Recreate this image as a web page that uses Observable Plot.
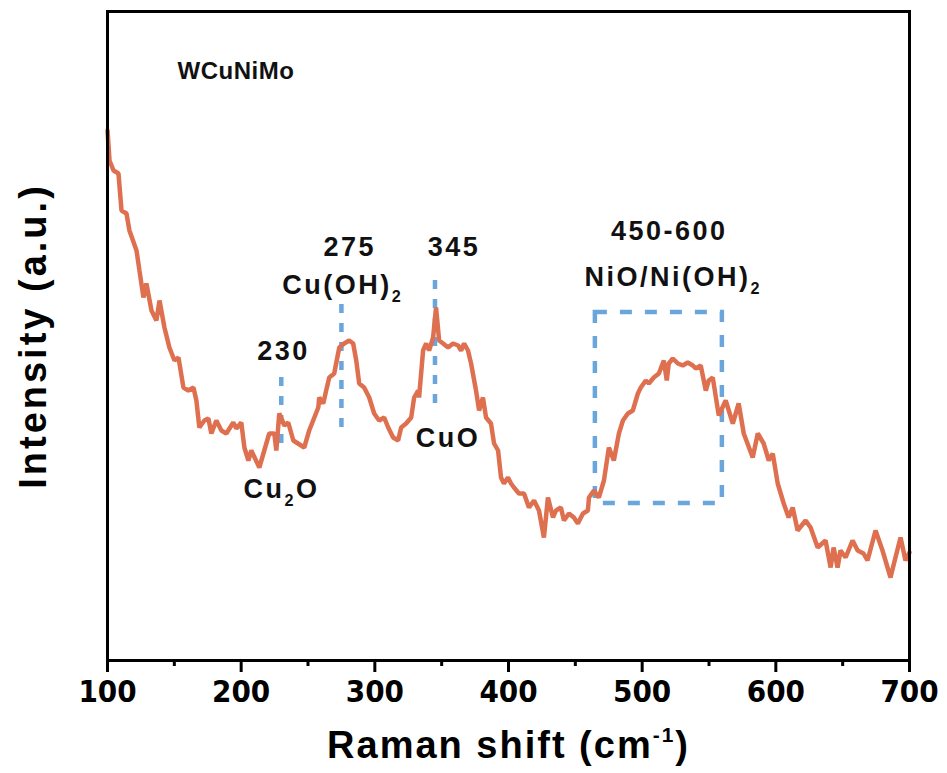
<!DOCTYPE html>
<html>
<head>
<meta charset="utf-8">
<script src="https://cdn.jsdelivr.net/npm/d3@7"></script>
<script src="https://cdn.jsdelivr.net/npm/@observablehq/plot@0.6"></script>
<style>
  body { margin: 0; background: #fff; }
  #chart svg { font-family: "Liberation Sans", Arial, sans-serif; }
  #chart svg text { letter-spacing: 2.5px; }
  #chart g[aria-label="x-axis tick label"] text {
    font-family: "Liberation Sans Narrow", "Arial Narrow", "DejaVu Sans Condensed", sans-serif;
    letter-spacing: 0;
  }
</style>
</head>
<body>
<div id="chart"></div>
<script>
// Raman spectrum of the WCuNiMo sample (shift in cm^-1, intensity in a.u.)
const shift = [
  100, 101.5, 104.5, 108.2, 110.5, 114.2, 116.4, 121.7, 123.9, 126.9,
  129.1, 132.9, 136.6, 138.9, 142.6, 146.3, 150.1, 153.1, 156.8, 160.5,
  164.3, 166.5, 168.7, 172.5, 175.5, 177.7, 181.4, 185.2, 188.9, 194.1,
  196.4, 200.1, 202.4, 205.4, 207.6, 213.6, 217.3, 221.0, 224.8, 226.3,
  228.5, 232.3, 235.2, 239.0, 247.2, 250.9,
  257.7, 258.4, 261.4, 263.6, 265.9, 269.6, 273.4, 277.1, 280.8, 283.8,
  286.1, 288.3, 292.0, 295.8, 299.5, 303.2, 307.0, 310.0, 313.7, 317.4,
  319.7, 323.4, 327.2, 329.4, 332.4, 333.1, 336.1, 338.4, 340.6, 343.6,
  345.8, 348.1, 351.1, 354.8, 358.5, 362.3, 364.5, 366.8, 369.7, 372.0,
  375.7, 378.0, 380.9, 383.2, 386.9, 389.2, 392.2, 394.4, 396.6, 399.6,
  401.9, 404.1, 407.8,
  411.6, 415.3, 419.1, 422.8, 426.5, 429.5, 433.3, 435.5, 439.2, 441.5,
  445.2, 448.9, 451.9, 455.7, 459.4, 460.2, 463.9, 467.6, 471.4, 475.1,
  478.8, 482.6, 485.6, 489.3, 493.0, 496.8, 499.0, 502.7, 505.0, 508.7,
  512.5, 516.2, 518.4, 519.9, 522.9, 526.7, 530.4, 534.1, 537.9, 540.1,
  543.8,
  547.6, 549.8, 552.8, 557.3, 562.5, 567.8, 572.2, 576.0, 582.7, 586.5,
  590.9, 594.7, 597.7, 601.4, 605.9, 609.6, 612.6, 616.3, 622.3, 626.0,
  631.3, 637.2, 641.0, 643.2, 646.2, 648.4, 652.2, 657.4, 661.2, 665.6,
  668.6, 674.6, 679.8, 685.8, 689.5, 693.3, 697.0, 700
];
const intensity = [
  530, 500, 490, 487, 450, 447, 430, 410, 390, 363,
  377, 350, 340, 360, 333, 313, 300, 303, 273, 270,
  273, 260, 233, 240, 242, 227, 240, 230, 227, 238,
  232, 238, 213, 200, 210, 193, 210, 227, 227, 210,
  247, 235, 238, 220, 213, 230,
  253, 263, 257, 270, 283, 287, 313, 317, 320, 317,
  300, 277, 273, 263, 247, 240, 243, 233, 223, 220,
  233, 237, 243, 263, 270, 263, 310, 317, 310, 323,
  353, 320, 317, 313, 317, 315, 310, 317, 310, 297,
  270, 250, 263, 243, 237, 217, 210, 183, 177, 183,
  177, 173, 167,
  167, 153, 160, 150, 123, 163, 143, 150, 153, 140,
  147, 143, 137, 147, 150, 163, 170, 163, 180, 213,
  200, 227, 240, 247, 250, 267, 273, 280, 277, 283,
  287, 300, 280, 297, 302, 297, 295, 298, 295, 292,
  295,
  270, 280, 283, 245, 260, 237, 257, 227, 203, 227,
  217, 200, 207, 177, 157, 143, 153, 130, 140, 133,
  113, 120, 93, 113, 93, 110, 103, 120, 110, 107,
  100, 130, 110, 83, 103, 123, 100, 108
];

// axis ticks
const majorTicks = [100, 200, 300, 400, 500, 600, 700];
const minorTicks = [150, 250, 350, 450, 550, 650];

// assigned peak positions and the extent of their marker lines
const peakShift = [230, 275, 345];
const peakLow = [217, 233, 257];
const peakHigh = [287, 358, 383];

// NiO/Ni(OH)2 band region
const bandStart = [465];
const bandEnd = [560];
const bandLow = [157];
const bandHigh = [348];

// annotation texts and their anchor points
const noteText = ["230", "275", "345", "450-600", "Cu₂O", "Cu(OH)₂", "CuO", "NiO/Ni(OH)₂"];
const noteShift = [231.7, 281.2, 359.2, 520.3, 230.2, 276, 354.7, 523.3];
const noteLevel = [309, 413, 413, 429, 171, 375, 222, 383];

const sampleName = ["WCuNiMo"];
const xTitle = ["Raman shift (cm⁻¹)"];
const yTitle = ["Intensity (a.u.)"];

const spectrum = shift.map((s, i) => ({shift: s, intensity: intensity[i]}));
const peaks = peakShift.map((s, i) => ({shift: s, low: peakLow[i], high: peakHigh[i]}));
const band = bandStart.map((s, i) => ({x1: s, x2: bandEnd[i], y1: bandLow[i], y2: bandHigh[i]}));
const notes = noteText.map((t, i) => ({text: t, shift: noteShift[i], level: noteLevel[i]}));

const lineColor = "#DE7050";
const markColor = "#6AA6DC";

const chart = Plot.plot({
  width: 947,
  height: 773,
  marginLeft: 107,
  marginRight: 38,
  marginTop: 11,
  marginBottom: 113,
  x: {domain: [100, 700]},
  y: {domain: [0, 649], axis: null},
  marks: [
    Plot.ruleX(peaks, {x: "shift", y1: "low", y2: "high", stroke: markColor, strokeWidth: 4.5, strokeDasharray: "9,10"}),
    Plot.rect(band, {x1: "x1", x2: "x2", y1: "y1", y2: "y2", fill: "none", stroke: markColor, strokeWidth: 4.5, strokeDasharray: "12,13"}),
    Plot.line(spectrum, {x: "shift", y: "intensity", stroke: lineColor, strokeWidth: 4.5, strokeLinejoin: "miter"}),
    Plot.text(notes, {x: "shift", y: "level", text: "text", fontSize: 27, fontWeight: "bold", fill: "#111"}),
    Plot.text(sampleName, {x: 152.4, y: 589, textAnchor: "start", fontSize: 24, fontWeight: "bold", fill: "#111"}),
    Plot.axisX({ticks: minorTicks, tickSize: 6, strokeWidth: 3, tickFormat: () => "", label: null}),
    Plot.axisX({ticks: majorTicks, tickSize: 12, tickPadding: 7, strokeWidth: 3, fontSize: 31, fontWeight: "bold", tickFormat: d => String(d), label: null}),
    Plot.text(xTitle, {frameAnchor: "bottom", lineAnchor: "middle", textAnchor: "middle", dy: 85, fontSize: 38, fontWeight: "bold"}),
    Plot.text(yTitle, {frameAnchor: "left", lineAnchor: "middle", textAnchor: "middle", rotate: -90, dx: -74, fontSize: 38, fontWeight: "bold"}),
    Plot.frame({stroke: "#000", strokeWidth: 3})
  ]
});

document.getElementById("chart").append(chart);

// spacing per text role
chart.querySelectorAll("text").forEach(t => {
  const s = t.textContent;
  if (s === sampleName[0]) t.style.letterSpacing = "0.5px";
  if (s === xTitle[0]) t.style.letterSpacing = "2px";
  if (s === yTitle[0]) t.style.letterSpacing = "3px";
});

// chemical subscripts and the unit exponent as shifted tspans
const NS = "http://www.w3.org/2000/svg";
chart.querySelectorAll("text").forEach(t => {
  const s = t.textContent;
  if (!s.includes("₂") && !s.includes("⁻¹")) return;
  const fs = parseFloat(getComputedStyle(t).fontSize) || 25;
  const parts = s.split(/(₂|⁻¹)/);
  t.textContent = "";
  let shiftY = 0;
  parts.forEach(p => {
    if (p === "") return;
    const ts = document.createElementNS(NS, "tspan");
    if (p === "₂") {
      ts.textContent = "2";
      ts.setAttribute("font-size", fs * 0.6);
      ts.setAttribute("dy", fs * 0.3 - shiftY);
      shiftY = fs * 0.3;
    } else if (p === "⁻¹") {
      ts.textContent = "-1";
      ts.setAttribute("font-size", fs * 0.55);
      ts.setAttribute("dy", -fs * 0.4 - shiftY);
      shiftY = -fs * 0.4;
    } else {
      ts.textContent = p;
      if (shiftY !== 0) ts.setAttribute("dy", -shiftY);
      shiftY = 0;
    }
    t.appendChild(ts);
  });
});
</script>
</body>
</html>
